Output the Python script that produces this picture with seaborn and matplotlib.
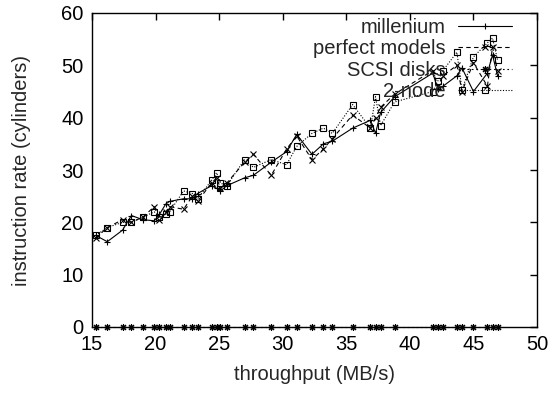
import matplotlib
matplotlib.use("Agg")
import matplotlib.pyplot as plt
import seaborn as sns
import numpy as np
import pandas as pd

# ---- data ----
x_vals = [15.3, 16.2, 17.4, 18.1, 19.0, 19.9, 20.3, 20.8, 21.1, 22.2, 22.9, 23.3,
          24.4, 24.8, 25.1, 25.6, 27.0, 27.7, 29.1, 30.3, 31.1, 32.3, 33.2, 33.9,
          35.5, 36.9, 37.3, 37.7, 38.8, 41.8, 42.2, 42.6, 43.7, 44.1, 45.0, 46.1,
          46.5, 46.9]

millenium = [17.5, 16.3, 18.5, 21.3, 20.5, 20.3, 21.5, 23.5, 24.0, 24.5, 24.5, 25.5,
             27.0, 26.5, 26.0, 27.0, 28.5, 29.0, 31.5, 33.5, 36.8, 33.0, 35.0, 35.5,
             38.0, 39.5, 37.0, 41.0, 44.0, 48.5, 45.5, 46.0, 48.0, 49.5, 45.0, 48.5,
             52.0, 48.0]

perfect_models = [17.0, 19.0, 20.5, 20.0, 21.0, 23.0, 20.5, 22.0, 23.0, 22.5, 25.0, 24.0,
                  27.5, 28.5, 26.5, 27.5, 31.5, 33.0, 29.0, 34.0, 36.5, 32.0, 34.0, 36.0,
                  40.5, 38.0, 40.0, 42.0, 44.5, 49.0, 46.0, 48.0, 50.0, 45.0, 50.5, 46.0,
                  53.5, 49.0]

scsi_disks = [0.0] * len(x_vals)

two_node = [17.5, 19.0, 20.0, 20.0, 21.0, 22.0, 21.0, 21.5, 22.0, 26.0, 25.5, 24.5,
            28.0, 29.5, 27.5, 27.0, 32.0, 30.5, 32.0, 31.0, 34.5, 37.0, 38.0, 37.0,
            42.5, 38.0, 44.0, 38.5, 43.0, 45.0, 47.0, 49.0, 52.5, 45.3, 51.6, 54.3,
            55.2, 51.0]

labels = ["millenium", "perfect models", "SCSI disks", "2-node"]
x_ticks = [15, 20, 25, 30, 35, 40, 45, 50]
y_ticks = [0, 10, 20, 30, 40, 50, 60]

# ---- style ----
sns.set_style("white")
plt.rcParams['font.family'] = ['Liberation Sans', 'DejaVu Sans']
plt.rcParams['font.size'] = 14.5

fig = plt.figure(figsize=(5.53, 3.95), dpi=100)
ax = fig.add_axes([92/553, 1 - 327/395, (537-92)/553, (327-13)/395])

series = [millenium, perfect_models, scsi_disks, two_node]
markers = ["+", "x", (8, 2, 0), "s"]
styles = ["-", (0, (4, 3)), (0, (1.5, 2.5)), (0, (1, 1.5))]

for ys, lab, ls in zip(series, labels, styles):
    sns.lineplot(x=x_vals, y=ys, ax=ax, color="black", estimator=None, sort=False,
                 linewidth=0.8, linestyle=ls, label=lab)

for ln, mk in zip(ax.lines, markers):
    ln.set_marker(mk)
    ln.set_markersize(5)
    ln.set_markeredgewidth(0.8)
    ln.set_markeredgecolor("black")
    ln.set_markerfacecolor("none")
    ln.set_clip_on(False)

ax.set_xlim(15, 50)
ax.set_ylim(0, 60)
ax.set_xticks(x_ticks)
ax.set_yticks(y_ticks)
ax.tick_params(direction="in", length=5, width=1, top=True, right=True,
               labelsize=14.5, pad=6, colors="black")
for s in ax.spines.values():
    s.set_color("black")
    s.set_linewidth(1.0)

ax.set_xlabel("throughput (MB/s)", fontsize=14.5, labelpad=8)
ax.set_ylabel("instruction rate (cylinders)", fontsize=14.5, labelpad=22)

handles, _ = ax.get_legend_handles_labels()
leg = ax.legend(handles, labels, loc="upper right",
                bbox_to_anchor=((512-92)/445, (327-18)/314),
                markerfirst=False, frameon=False, handlelength=2.7, handletextpad=0.6,
                labelspacing=0.12, borderpad=0, borderaxespad=0, fontsize=14.5)
for h, mk in zip(leg.legend_handles, markers):
    h.set_marker(mk)
    h.set_markersize(5)
    h.set_markeredgewidth(0.8)
    h.set_markeredgecolor("black")
    h.set_markerfacecolor("none")

fig.savefig("out.png", dpi=100)
